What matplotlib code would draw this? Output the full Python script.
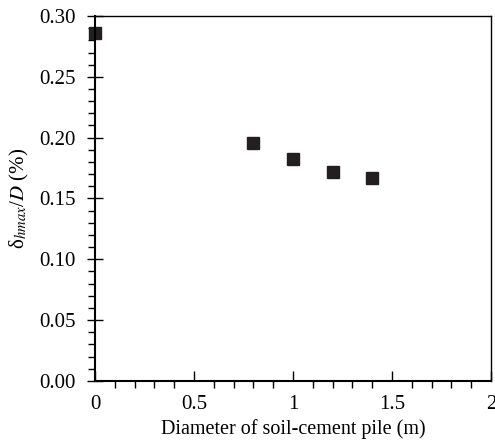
import matplotlib
matplotlib.use('Agg')
import matplotlib.pyplot as plt
from matplotlib.ticker import MultipleLocator

# Pile diameter (m) and normalised max horizontal displacement (%)
diameter = [0.0, 0.8, 1.0, 1.2, 1.4]
ratio = [0.286, 0.1955, 0.1827, 0.172, 0.1668]

xticks = [0, 0.5, 1, 1.5, 2]
xlabels = ['0', '0.5', '1', '1.5', '2']
yticks = [0, 0.05, 0.10, 0.15, 0.20, 0.25, 0.30]
ylabels = ['0.00', '0.05', '0.10', '0.15', '0.20', '0.25', '0.30']

plt.rcParams['font.family'] = ['Liberation Serif', 'DejaVu Serif']
plt.rcParams['mathtext.fontset'] = 'stix'

fig = plt.figure(figsize=(4.95, 4.45), dpi=100)
ax = fig.add_axes([0.192, 0.144, 0.8, 0.82])

ax.plot(diameter, ratio, 's', color='#231f20', markersize=8.5, clip_on=False)

ax.set_xlim(0, 2)
ax.set_ylim(0, 0.30)
ax.set_xticks(xticks)
ax.set_xticklabels(xlabels)
ax.set_yticks(yticks)
ax.set_yticklabels(ylabels)
ax.xaxis.set_minor_locator(MultipleLocator(0.1))
ax.yaxis.set_minor_locator(MultipleLocator(0.01))

ax.tick_params(axis='x', which='major', direction='in', length=7, width=1, labelsize=15, pad=10)
ax.tick_params(axis='x', which='minor', direction='out', length=5, width=1)
ax.tick_params(axis='y', which='major', direction='inout', length=12, width=1, labelsize=15, pad=8)
ax.tick_params(axis='y', which='minor', direction='out', length=5, width=1)
for s in ax.spines.values():
    s.set_linewidth(1)
ax.spines['bottom'].set_linewidth(1.5)
ax.spines['left'].set_linewidth(1.5)

ax.set_xlabel('Diameter of soil-cement pile (m)', fontsize=14.5, labelpad=4)
ax.set_ylabel('δ$_{hmax}$/$D$ (%)', fontsize=15, labelpad=6)

fig.savefig('out.png', dpi=100)
